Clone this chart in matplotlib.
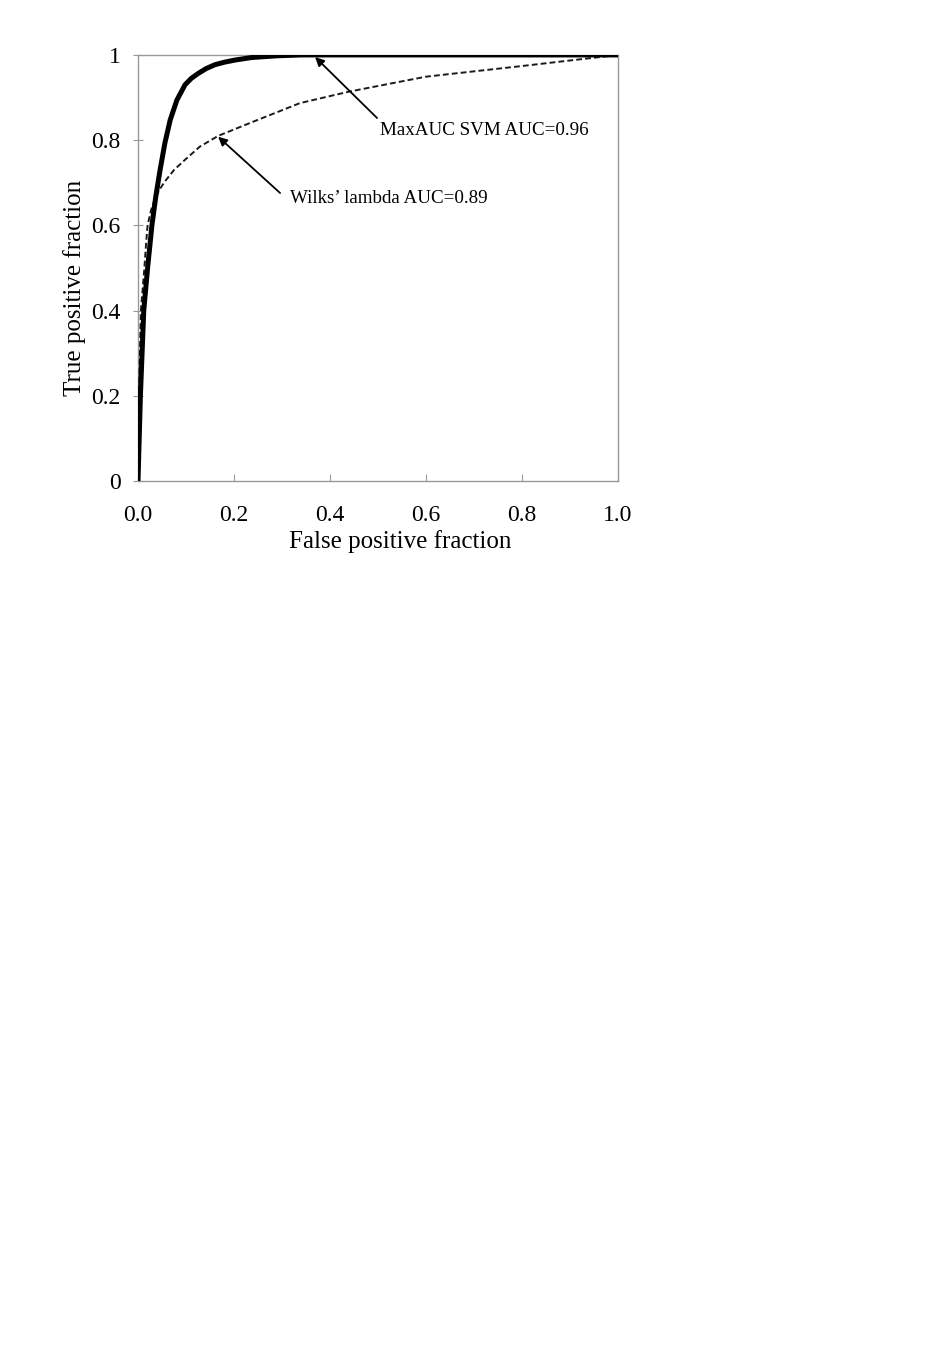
import numpy as np
import matplotlib
matplotlib.use("Agg")
import matplotlib.pyplot as plt

plt.rcParams['font.family'] = ['Liberation Serif', 'DejaVu Serif']

# ROC curve points
svm_fpr = [0, 0.005, 0.012, 0.02, 0.029, 0.037, 0.046, 0.056, 0.067, 0.081, 0.098, 0.111, 0.126, 0.142, 0.16, 0.18, 0.202, 0.237, 0.29, 0.34, 1.0]
svm_tpr = [0, 0.2, 0.4, 0.5, 0.6, 0.667, 0.73, 0.793, 0.847, 0.894, 0.93, 0.945, 0.957, 0.968, 0.977, 0.983, 0.988, 0.994, 0.998, 1.0, 1.0]

wilks_fpr = [0, 0.002, 0.006, 0.013, 0.017, 0.02, 0.027, 0.036, 0.046, 0.056, 0.075, 0.098, 0.129, 0.167, 0.237, 0.3375, 0.44, 0.6, 0.8, 1.0]
wilks_tpr = [0, 0.2, 0.4, 0.495, 0.56, 0.6, 0.635, 0.665, 0.686, 0.703, 0.73, 0.754, 0.785, 0.81, 0.842, 0.887, 0.914, 0.949, 0.974, 1.0]

x_ticks = [0.0, 0.2, 0.4, 0.6, 0.8, 1.0]
x_labels = ["0.0", "0.2", "0.4", "0.6", "0.8", "1.0"]
y_ticks = [0, 0.2, 0.4, 0.6, 0.8, 1.0]
y_labels = ["0", "0.2", "0.4", "0.6", "0.8", "1"]

fig = plt.figure(figsize=(9.53, 13.5), dpi=100)
ax = fig.add_axes([0.1448, 0.6437, 0.5037, 0.3156])

ax.plot(wilks_fpr, wilks_tpr, color='#1a1a1a', lw=1.4, ls=(0, (3, 1.6)), zorder=3)
ax.plot(svm_fpr, svm_tpr, color='black', lw=3.6, solid_capstyle='butt', solid_joinstyle='round', zorder=4)

ax.set_xlim(0, 1)
ax.set_ylim(0, 1)
ax.set_xticks(x_ticks)
ax.set_xticklabels(x_labels)
ax.set_yticks(y_ticks)
ax.set_yticklabels(y_labels)
ax.tick_params(axis='x', direction='in', length=5, width=0.8, color='#999999', labelsize=17, pad=17.5)
ax.tick_params(axis='y', direction='inout', length=7, width=0.8, color='#999999', labelsize=17, pad=9)
for s in ax.spines.values():
    s.set_color('#999999')
    s.set_linewidth(1.0)

ax.set_xlabel("False positive fraction", fontsize=18, labelpad=2)
ax.xaxis.set_label_coords(0.546, -0.115)
ax.set_ylabel("True positive fraction", fontsize=18, labelpad=3.5)
ax.yaxis.label.set_y(0.453)

arrow = dict(arrowstyle='-|>', color='black', lw=1.3, mutation_scale=13, shrinkA=0, shrinkB=0)
ax.annotate("", xy=(0.369, 0.995), xytext=(0.498, 0.852), arrowprops=arrow)
ax.text(0.504, 0.822, "MaxAUC SVM AUC=0.96", fontsize=13.7, va='center', ha='left')
ax.annotate("", xy=(0.167, 0.808), xytext=(0.296, 0.676), arrowprops=arrow)
ax.text(0.317, 0.662, "Wilks\u2019 lambda AUC=0.89", fontsize=13.7, va='center', ha='left')

fig.savefig("out.png", dpi=100)
